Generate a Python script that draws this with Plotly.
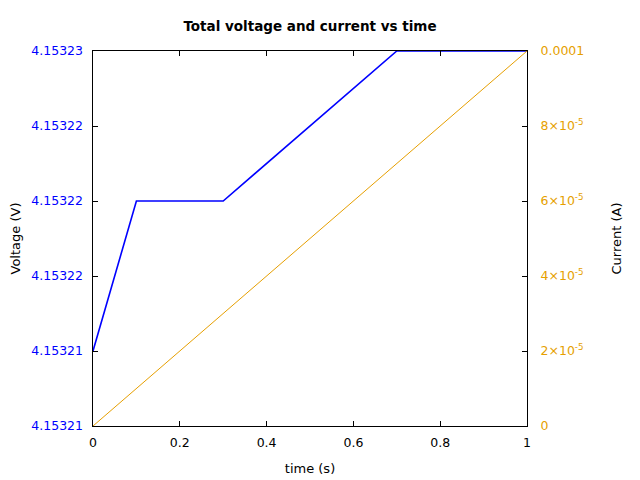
import plotly.graph_objects as go

time_v = [0, 0.1, 0.3, 0.7, 1.0]
voltage = [4.153212, 4.153220, 4.153220, 4.153228, 4.153228]
time_i = [0, 1.0]
current = [0, 0.0001]

x_ticks = [0, 0.2, 0.4, 0.6, 0.8, 1]
x_ticktext = ["0", "0.2", "0.4", "0.6", "0.8", "1"]
v_ticks = [4.153208, 4.153212, 4.153216, 4.153220, 4.153224, 4.153228]
v_ticktext = ["4.15321", "4.15321", "4.15322", "4.15322", "4.15322", "4.15323"]
i_ticks = [0, 0.00002, 0.00004, 0.00006, 0.00008, 0.0001]
i_ticktext = ["0", "2×10<sup>-5</sup>", "4×10<sup>-5</sup>", "6×10<sup>-5</sup>",
              "8×10<sup>-5</sup>", "0.0001"]

BLUE = "#0000ff"
ORANGE = "#e69f00"
FONT = "DejaVu Sans"
TICK_SIZE = 12.5
TITLE_SIZE = 13

fig = go.Figure()
fig.add_trace(go.Scatter(x=time_i, y=current, mode="lines", yaxis="y2",
                         line=dict(color=ORANGE, width=1), showlegend=False))
fig.add_trace(go.Scatter(x=time_v, y=voltage, mode="lines", yaxis="y",
                         line=dict(color=BLUE, width=1.6), showlegend=False))

fig.update_layout(
    width=640, height=480,
    margin=dict(l=93, r=113, t=51, b=54),
    paper_bgcolor="white", plot_bgcolor="white",
    font=dict(family=FONT, size=TICK_SIZE, color="black"),
    title=dict(text="<b>Total voltage and current vs time</b>", x=310/640, xanchor="center",
               y=1 - 26/480, yanchor="middle", font=dict(size=13.5, family=FONT)),
    xaxis=dict(range=[0, 1], tickvals=x_ticks, ticktext=x_ticktext, automargin=False,
               showgrid=False, zeroline=False, showline=True, linecolor="black",
               linewidth=1, mirror="ticks", ticks="inside", ticklen=5, tickcolor="black",
               tickfont=dict(size=TICK_SIZE), ticklabelstandoff=5,
               title=dict(text="time (s)", standoff=14, font=dict(size=TITLE_SIZE))),
    yaxis=dict(range=[4.153208, 4.153228], tickvals=v_ticks,
               ticktext=[t + "\u00a0\u2009" for t in v_ticktext], automargin=False,
               tickfont=dict(color=BLUE, size=TICK_SIZE), showgrid=False, zeroline=False,
               showline=True, linecolor="black", linewidth=1, ticks="inside",
               ticklen=5, tickcolor="black",
               title=dict(text="Voltage (V)", standoff=7,
                          font=dict(size=TITLE_SIZE, color="black"))),
    yaxis2=dict(range=[0, 0.0001], tickvals=i_ticks, ticktext=i_ticktext, automargin=False,
                tickfont=dict(color=ORANGE, size=TICK_SIZE), overlaying="y", side="right",
                showgrid=False, zeroline=False, showline=True, linecolor="black",
                linewidth=1, ticks="inside", ticklen=5, tickcolor="black",
                ticklabelstandoff=10,
                title=dict(text="Current (A)", standoff=28,
                           font=dict(size=TITLE_SIZE, color="black"))),
)

fig.write_html("out.html")
